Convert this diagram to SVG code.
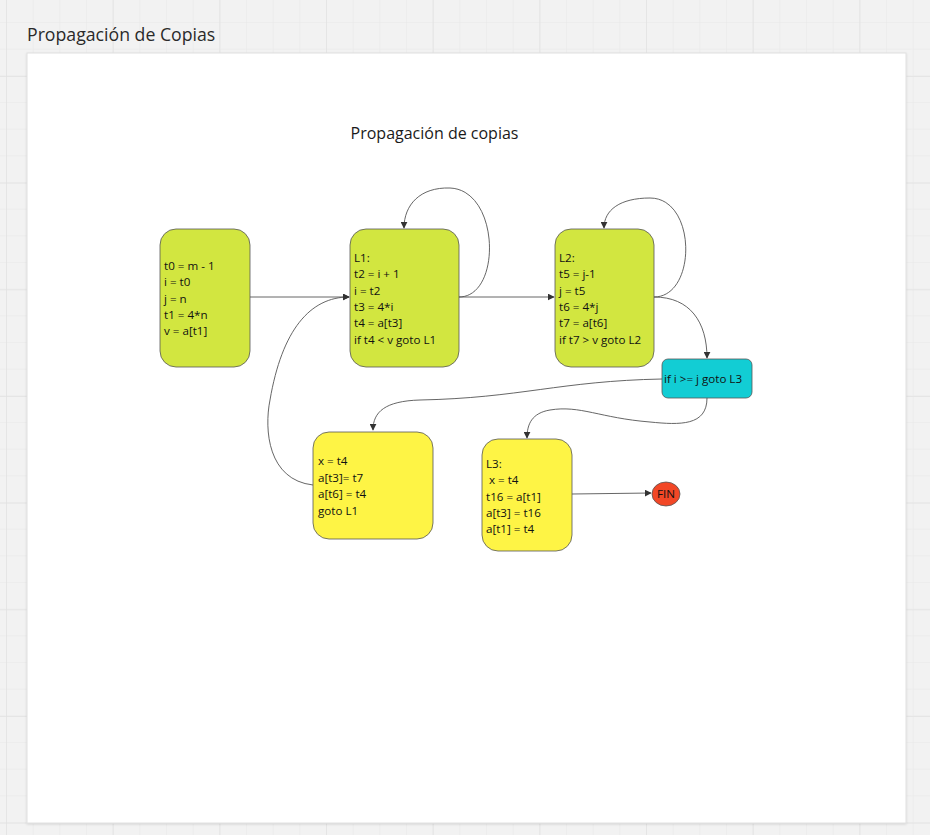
<svg xmlns="http://www.w3.org/2000/svg" width="930" height="835" viewBox="0 0 930 835">
<defs>
<pattern id="minor" x="6" y="22" width="26.667" height="26.667" patternUnits="userSpaceOnUse">
<path d="M0 0 H26.667 M0 0 V26.667" stroke="#e8e8e8" stroke-width="1" fill="none"/>
</pattern>
<pattern id="major" x="6" y="-30.67" width="106.667" height="106.667" patternUnits="userSpaceOnUse">
<path d="M0 0 H106.667 M0 0 V106.667" stroke="#e2e2e2" stroke-width="1.5" fill="none"/>
</pattern>
<marker id="arr" viewBox="0 0 10 10" refX="9" refY="5" markerWidth="7" markerHeight="7" markerUnits="userSpaceOnUse" orient="auto">
<path d="M0 0 L10 5 L0 10 Z" fill="#333"/>
</marker>
<filter id="sh" x="-5%" y="-5%" width="110%" height="110%">
<feDropShadow dx="0" dy="1" stdDeviation="1" flood-color="#000" flood-opacity="0.12"/>
</filter>
</defs>
<style>
.t{font-family:"Open Sans","Noto Sans",sans-serif;font-size:11.6px;fill:#111}
.box{stroke:#555;stroke-width:0.8}
.g{fill:#d2e640}
.y{fill:#fef445}
.c{fill:#12cdd4}
.e{fill:none;stroke:#555;stroke-width:0.9;marker-end:url(#arr)}
</style>
<rect width="930" height="835" fill="#f2f2f2"/>
<rect width="930" height="835" fill="url(#minor)"/>
<rect width="930" height="835" fill="url(#major)"/>
<rect x="27" y="53" width="879" height="770" fill="#fff" stroke="#e0e0e0" stroke-width="1" filter="url(#sh)"/>
<text x="27" y="41" font-family="'Open Sans','Noto Sans',sans-serif" font-size="17.7" fill="#2a2a2a">Propagación de Copias</text>
<text x="434.5" y="139" text-anchor="middle" font-family="'Open Sans','Noto Sans',sans-serif" font-size="16" fill="#1a1a1a">Propagación de copias</text>

<g id="connectors">
<path class="e" d="M250,297 L349,297"/>
<path class="e" d="M459,297 C502,297 500,190 450,188 C420,187 404,205 404,228"/>
<path class="e" d="M459,297 L554,297"/>
<path class="e" d="M654,297 C697,297 697,198 650,198 C620,198 604,210 604,228"/>
<path class="e" d="M654,297 C690,297 707,322 707,358"/>
<path class="e" d="M662,379 C560,381 520,398 420,400 C385,401 373,412 373,430"/>
<path class="e" d="M707,398 C707,426 680,425 650,422 C600,418 580,405 550,410 C532,413 527,424 527,438"/>
<path class="e" d="M313,485 C268,480 264,430 270,400 C282,330 310,297 349,297"/>
<path class="e" d="M572,494 L651,493"/>
</g>

<g id="n_init">
<rect class="box g" x="160" y="229" width="90" height="138" rx="16"/>
<text class="t" x="164" y="270">t0 = m - 1</text>
<text class="t" x="164" y="286.3">i = t0</text>
<text class="t" x="164" y="302.6">j = n</text>
<text class="t" x="164" y="318.9">t1 = 4*n</text>
<text class="t" x="164" y="335.2">v = a[t1]</text>
</g>

<g id="n_L1">
<rect class="box g" x="350" y="229" width="109" height="138" rx="16"/>
<text class="t" x="354" y="262">L1:</text>
<text class="t" x="354" y="278.3">t2 = i + 1</text>
<text class="t" x="354" y="294.6">i = t2</text>
<text class="t" x="354" y="310.9">t3 = 4*i</text>
<text class="t" x="354" y="327.2">t4 = a[t3]</text>
<text class="t" x="354" y="343.5">if t4 &lt; v goto L1</text>
</g>

<g id="n_L2">
<rect class="box g" x="555" y="229" width="99" height="138" rx="16"/>
<text class="t" x="559" y="262">L2:</text>
<text class="t" x="559" y="278.3">t5 = j-1</text>
<text class="t" x="559" y="294.6">j = t5</text>
<text class="t" x="559" y="310.9">t6 = 4*j</text>
<text class="t" x="559" y="327.2">t7 = a[t6]</text>
<text class="t" x="559" y="343.5">if t7 &gt; v goto L2</text>
</g>

<g id="n_cond">
<rect class="box c" x="662" y="359" width="90" height="39" rx="6"/>
<text class="t" x="664" y="383">if i &gt;= j goto L3</text>
</g>

<g id="n_swap">
<rect class="box y" x="313" y="432" width="120" height="107" rx="16"/>
<text class="t" x="318" y="465">x = t4</text>
<text class="t" x="318" y="481.6">a[t3]= t7</text>
<text class="t" x="318" y="498.2">a[t6] = t4</text>
<text class="t" x="318" y="514.8">goto L1</text>
</g>

<g id="n_L3">
<rect class="box y" x="482" y="439" width="90" height="112" rx="16"/>
<text class="t" x="486" y="468">L3:</text>
<text class="t" x="486" y="484.3" xml:space="preserve"> x = t4</text>
<text class="t" x="486" y="500.6">t16 = a[t1]</text>
<text class="t" x="486" y="516.9">a[t3] = t16</text>
<text class="t" x="486" y="533.2">a[t1] = t4</text>
</g>

<g id="n_fin">
<ellipse cx="666" cy="494" rx="14" ry="12" fill="#f24726" stroke="#555" stroke-width="0.8"/>
<text class="t" x="666" y="498" text-anchor="middle">FIN</text>
</g>
</svg>
